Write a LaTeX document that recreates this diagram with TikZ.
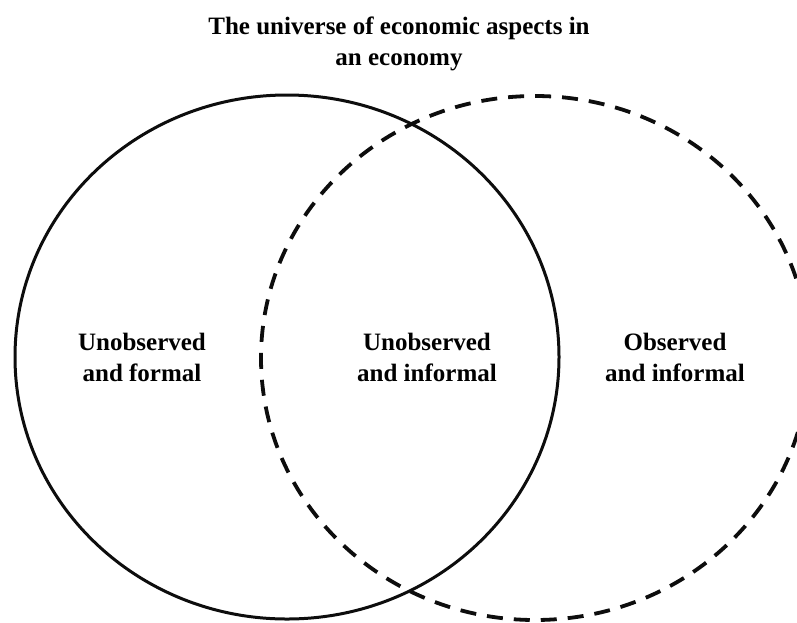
\documentclass[tikz,border=0pt]{standalone}
\usepackage{fontspec}
\setmainfont{Liberation Serif}
\usepackage{tikz}
\usepackage{color}
\definecolor{linegray}{rgb}{0.05, 0.05, 0.05}

\begin{document}
\begin{tikzpicture}[x=1pt, y=-1pt]
    \tikzset{label/.style={align=center, inner sep=0pt, font=\bfseries\fontsize{25}{31}\selectfont}}
    \useasboundingbox (0,0) rectangle (797,622);
    \fill[white] (0,0) rectangle (797,622);
    \draw[linegray, line width=3pt] (287,357) ellipse [x radius=272pt, y radius=262pt];
    \draw[linegray, line width=3.8pt, dash pattern=on 16pt off 11pt] (535,358) ellipse [x radius=274pt, y radius=262pt];
    \node[label] (title) at (399,44) {The universe of economic aspects in\\an economy};
    \node[label] (formal) at (142,357) {Unobserved\\and formal};
    \node[label] (unobs) at (427,357) {Unobserved\\and informal};
    \node[label] (obs) at (675,357) {Observed\\and informal};
  \end{tikzpicture}
\end{document}
